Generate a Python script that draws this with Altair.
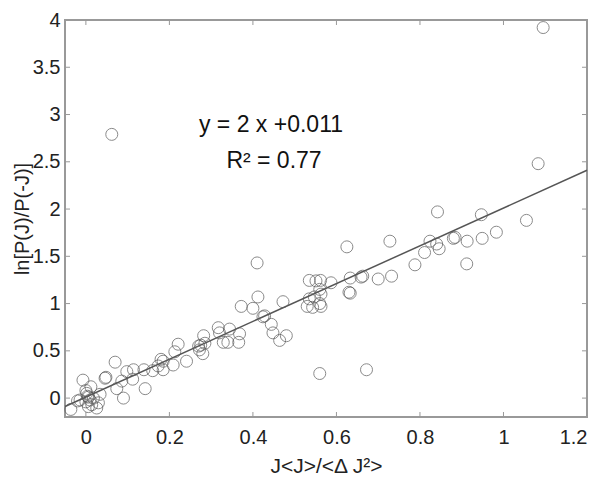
import altair as alt
import pandas as pd

# scatter points
xs = [-0.036, -0.02, -0.014, -0.007, 0.0, 0.002, 0.006, 0.0, 0.01, 0.014, 0.006, 0.012, 0.004,
      0.026, 0.03, 0.034, 0.018, 0.046, 0.048, 0.07, 0.074, 0.09, 0.086, 0.098, 0.114, 0.112,
      0.142, 0.139, 0.16, 0.173, 0.185, 0.185, 0.18, 0.209, 0.213, 0.221, 0.241, 0.27, 0.275,
      0.28, 0.282, 0.272, 0.285, 0.317, 0.32, 0.329, 0.344, 0.34, 0.368, 0.366, 0.372, 0.40,
      0.412, 0.41, 0.424, 0.428, 0.444, 0.448, 0.464, 0.48, 0.472, 0.535, 0.551, 0.562, 0.587,
      0.56, 0.563, 0.547, 0.543, 0.56, 0.563, 0.53, 0.535, 0.56, 0.625, 0.633, 0.633, 0.63,
      0.659, 0.663, 0.672, 0.70, 0.728, 0.732, 0.788, 0.811, 0.824, 0.842, 0.84, 0.846, 0.88,
      0.884, 0.912, 0.913, 0.947, 0.949, 0.983, 1.055, 1.083, 1.095, 0.062]
ys = [-0.12, -0.03, -0.02, 0.19, 0.08, 0.05, 0.01, -0.04, -0.02, -0.07, -0.09, 0.12, 0.02,
      -0.105, -0.05, 0.04, 0.0, 0.21, 0.22, 0.38, 0.10, 0.0, 0.18, 0.28, 0.30, 0.20,
      0.10, 0.30, 0.29, 0.34, 0.30, 0.39, 0.41, 0.35, 0.49, 0.57, 0.39, 0.55, 0.56,
      0.47, 0.66, 0.51, 0.58, 0.745, 0.69, 0.59, 0.73, 0.59, 0.68, 0.59, 0.97, 0.95,
      1.07, 1.43, 0.86, 0.87, 0.78, 0.69, 0.61, 0.66, 1.02, 1.245, 1.24, 1.245, 1.22,
      1.15, 1.10, 1.07, 0.96, 1.0, 0.97, 0.97, 1.05, 0.26, 1.60, 1.27, 1.11, 1.12,
      1.28, 1.29, 0.30, 1.26, 1.66, 1.29, 1.41, 1.54, 1.66, 1.97, 1.63, 1.58, 1.69,
      1.70, 1.42, 1.66, 1.94, 1.69, 1.755, 1.88, 2.48, 3.92, 2.79]

# fit line y = 2x + 0.011
fit_x = [-0.05, 1.2]
fit_y = [2 * v + 0.011 for v in fit_x]

x_ticks = [0, 0.2, 0.4, 0.6, 0.8, 1.0, 1.2]
y_ticks = [0, 0.5, 1, 1.5, 2, 2.5, 3, 3.5, 4]

TOP = 12
W, H = 522, 397
FONT = "Liberation Sans"
GRAY = "#999999"

pts = pd.DataFrame({"x": xs, "y": ys})
fit = pd.DataFrame({"x": fit_x, "y": fit_y})
xt = pd.DataFrame({"t": x_ticks})
yt = pd.DataFrame({"t": y_ticks})

xscale = alt.Scale(domain=[-0.05, 1.2], nice=False, zero=False)
yscale = alt.Scale(domain=[-0.2, 4], nice=False, zero=False)

xaxis = alt.Axis(values=x_ticks, ticks=False, domain=False, grid=False,
                 labelFontSize=20, labelFont=FONT, labelColor="#222",
                 labelPadding=10, title="J<J>/<Δ J²>", titleFont=FONT,
                 titleFontSize=21, titleFontWeight="normal", titleColor="#222",
                 titlePadding=8,
                 labelExpr="datum.value == 0 ? '0' : datum.value == 1 ? '1' : format(datum.value, '.1f')")
yaxis = alt.Axis(values=y_ticks, ticks=False, domain=False, grid=False,
                 labelFontSize=20, labelFont=FONT, labelColor="#222",
                 labelPadding=5, title="ln[P(J)/P(-J)]", titleFont=FONT,
                 titleFontSize=20, titleFontWeight="normal", titleColor="#222",
                 titlePadding=0,
                 labelExpr="datum.value == 0 ? '0' : (datum.value % 1 == 0 ? format(datum.value, 'd') : format(datum.value, '.1f'))")

scatter = alt.Chart(pts).mark_point(shape="circle", filled=False, size=144,
                                    color="#5a5a5a", strokeWidth=1).encode(
    x=alt.X("x:Q", scale=xscale, axis=xaxis),
    y=alt.Y("y:Q", scale=yscale, axis=yaxis),
)

line = alt.Chart(fit).mark_line(color="#555555", strokeWidth=1.5).encode(
    x=alt.X("x:Q", scale=xscale), y=alt.Y("y:Q", scale=yscale))

tk = dict(color=GRAY, strokeWidth=1)
bt = alt.Chart(xt).mark_rule(**tk).encode(x=alt.X("t:Q", scale=xscale), y=alt.value(H), y2=alt.value(H - 5))
tt = alt.Chart(xt).mark_rule(**tk).encode(x=alt.X("t:Q", scale=xscale), y=alt.value(0), y2=alt.value(5))
lt = alt.Chart(yt).mark_rule(**tk).encode(y=alt.Y("t:Q", scale=yscale), x=alt.value(0), x2=alt.value(5))
rt = alt.Chart(yt).mark_rule(**tk).encode(y=alt.Y("t:Q", scale=yscale), x=alt.value(W), x2=alt.value(W - 5))

ann1 = alt.Chart(pd.DataFrame({"s": ["y = 2 x +0.011"]})).mark_text(
    font=FONT, fontSize=23, color="#111", align="center", baseline="alphabetic").encode(
    text="s:N", x=alt.value(206), y=alt.value(124 - TOP))
ann2 = alt.Chart(pd.DataFrame({"s": ["R² = 0.77"]})).mark_text(
    font=FONT, fontSize=23, color="#111", align="center", baseline="alphabetic").encode(
    text="s:N", x=alt.value(209), y=alt.value(160 - TOP))

chart = alt.layer(bt, tt, lt, rt, line, scatter, ann1, ann2).properties(
    width=W, height=H,
    autosize=alt.AutoSizeParams(type="none"),
    padding={"left": 57, "top": TOP, "right": 5, "bottom": 60},
    background="white",
).configure_view(stroke=GRAY, strokeWidth=2)

chart.save("out.html", embed_options={"renderer": "svg", "actions": False})
